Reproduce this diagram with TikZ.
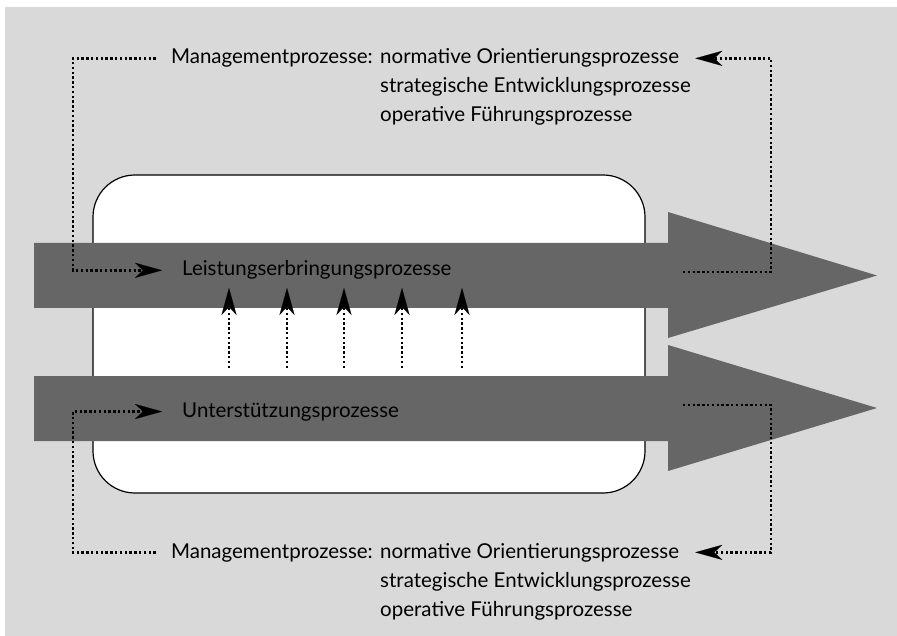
\documentclass[tikz,border=0pt]{standalone}
\usepackage{fontspec}
\setmainfont{Lato}
\usetikzlibrary{arrows.meta}

\definecolor{bggray}{HTML}{D9D9D9}
\definecolor{procgray}{HTML}{666666}

\begin{document}
\begin{tikzpicture}[x=1pt,y=-1pt,
    flow/.style={line width=2.4pt, dash pattern=on 2.4pt off 2.4pt},
    tip/.style={-{Stealth[length=27pt,width=15pt,inset=8pt,line width=0.1pt]}},
    label/.style={inner sep=0pt, anchor=base west, font=\fontsize{20.5}{25}\selectfont}]
    \useasboundingbox (0,0) rectangle (897,636);

    % Background (shaded region)
    \fill[bggray] (5,7) rectangle (897,636);

    % Rounded white box
    \draw[fill=white, line width=1.2pt, rounded corners=42pt] (93,175) rectangle (645,493);

    % Big process arrows
    \fill[procgray] (34,243) -- (668,243) -- (668,212) -- (877,275.5)
        -- (668,338) -- (668,308) -- (34,308) -- cycle;
    \fill[procgray] (34,376) -- (668,376) -- (668,345) -- (877,408)
        -- (668,471) -- (668,441) -- (34,441) -- cycle;

    % Labels
    \node[label] (leist) at (182,276) {Leistungserbringungsprozesse};
    \node[label] (unter) at (182,417) {Unterstützungsprozesse};

    % Management texts, top
    \node[label, anchor=base east] (mgtop) at (373,64) {Managementprozesse:};
    \node[label] (normtop) at (380,64) {normative Orientierungsprozesse};
    \node[label] (strattop) at (380,93) {strategische Entwicklungsprozesse};
    \node[label] (opertop) at (380,122) {operative Führungsprozesse};

    % Management texts, bottom
    \node[label, anchor=base east] (mgbot) at (373,558) {Managementprozesse:};
    \node[label] (normbot) at (380,558) {normative Orientierungsprozesse};
    \node[label] (stratbot) at (380,587) {strategische Entwicklungsprozesse};
    \node[label] (operbot) at (380,616) {operative Führungsprozesse};

    % Corner points of the dotted loops
    \coordinate (lcol) at (73,150);
    \coordinate (rcol) at (771,150);
    \coordinate (lcol2) at (73,480);
    \coordinate (rcol2) at (771,480);
    \coordinate (uend) at (683,272);
    \coordinate (lend) at (683,405);

    % Dotted loops
    \draw[flow,tip] ([xshift=-15pt]mgtop.west) -| (lcol) |- ([xshift=-20pt]leist.west);
    \draw[flow,tip] (uend) -| (rcol) |- ([xshift=16pt]normtop.east);
    \draw[flow,tip] ([xshift=-15pt]mgbot.west) -| (lcol2) |- ([xshift=-20pt]unter.west);
    \draw[flow,tip] (lend) -| (rcol2) |- ([xshift=16pt]normbot.east);

    % Support arrows
    \foreach \x [count=\i] in {229,287,344,402,462} {
        \coordinate (s\i) at (\x,368);
        \coordinate (t\i) at (\x,288);
        \draw[flow,tip] (s\i) -- (t\i);
    }
\end{tikzpicture}
\end{document}
